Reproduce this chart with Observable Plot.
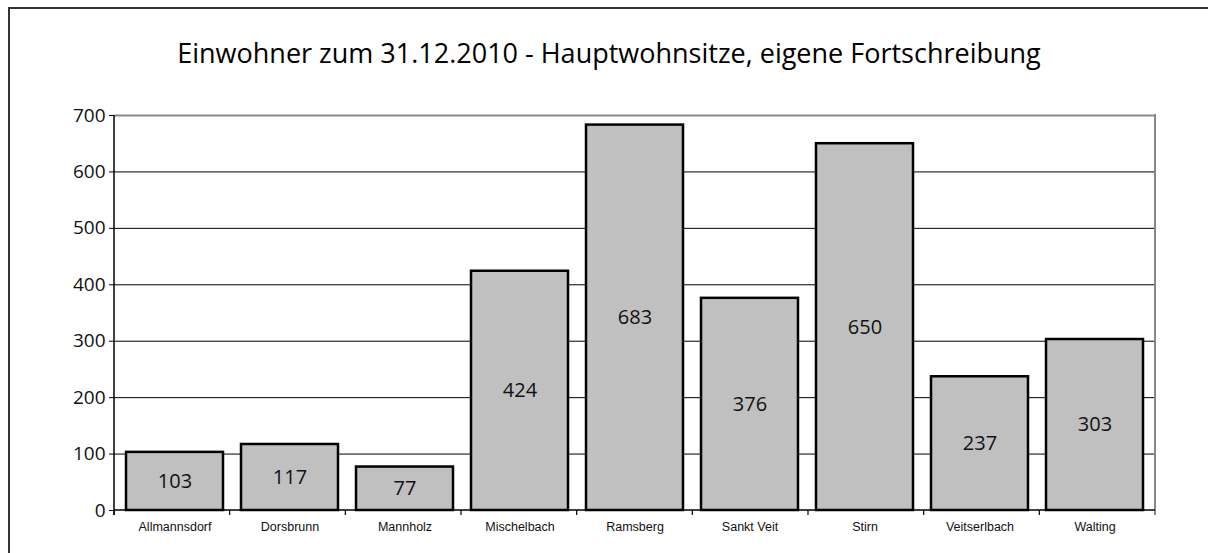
<!DOCTYPE html>
<html>
<head>
<meta charset="utf-8">
<script src="https://cdn.jsdelivr.net/npm/d3@7"></script>
<script src="https://cdn.jsdelivr.net/npm/@observablehq/plot@0.6"></script>
<style>
  html, body { margin: 0; padding: 0; background: #fff; overflow: hidden; width: 1208px; height: 553px; }
  #frame { position: absolute; left: 8px; top: 7px; width: 1400px; height: 800px; border-left: 2px solid #333; border-top: 2px solid #333; }
  #title { position: absolute; left: 0; width: 1218px; top: 34px; text-align: center; font-family: "Open Sans", sans-serif; font-size: 27px; color: #000; white-space: nowrap; }
  #chart { position: absolute; left: 0; top: 0; }
</style>
</head>
<body>
<div id="frame"></div>
<div id="title">Einwohner zum 31.12.2010 - Hauptwohnsitze, eigene Fortschreibung</div>
<div id="chart"></div>
<script>
const categories = ["Allmannsdorf", "Dorsbrunn", "Mannholz", "Mischelbach", "Ramsberg", "Sankt Veit", "Stirn", "Veitserlbach", "Walting"];
const values = [103, 117, 77, 424, 683, 376, 650, 237, 303];
const yTicks = [0, 100, 200, 300, 400, 500, 600, 700];

const data = categories.map((c, i) => ({name: c, value: values[i]}));
const geoFont = "Open Sans, sans-serif";

function frameMark(index, scales, values, dims) {
  const y = scales.y;
  const n = categories.length;
  const left = dims.marginLeft, right = dims.width - dims.marginRight;
  const step = (right - left) / n;
  const y0 = y(0), yTop = y(700);
  const g = d3.create("svg:g");
  g.append("line").attr("x1", right).attr("x2", right).attr("y1", yTop - 1).attr("y2", y0 + 5)
    .attr("stroke", "#888").attr("stroke-width", 2);
  for (let i = 0; i <= n; i++) {
    const xb = left + i * step;
    g.append("line").attr("x1", xb).attr("x2", xb).attr("y1", y0).attr("y2", y0 + 5)
      .attr("stroke", i === n ? "#888" : "#000").attr("stroke-width", 1.2);
  }
  g.append("line").attr("x1", left).attr("x2", right).attr("y1", y0).attr("y2", y0)
    .attr("stroke", "#000").attr("stroke-width", 1.5);
  g.append("line").attr("x1", left).attr("x2", left).attr("y1", yTop).attr("y2", y0 + 5)
    .attr("stroke", "#000").attr("stroke-width", 1.5);
  return g.node();
}

const chart = Plot.plot({
  width: 1208,
  height: 553,
  marginTop: 115,
  marginBottom: 43,
  marginLeft: 114,
  marginRight: 53,
  style: {background: "transparent"},
  x: {domain: categories, paddingInner: 0.16, paddingOuter: 0.08},
  y: {domain: [0, 700]},
  marks: [
    Plot.ruleY(yTicks.slice(1, -1), {stroke: "#000", strokeWidth: 1}),
    Plot.ruleY([700], {stroke: "#888", strokeWidth: 2}),
    Plot.barY(data, {x: "name", y: "value", fill: "#c0c0c0", stroke: "#000", strokeWidth: 2.5}),
    Plot.text(data, {x: "name", y: d => d.value / 2, text: d => String(d.value), fontSize: 20, fontFamily: geoFont, fill: "#111"}),
    frameMark,
    Plot.axisY({ticks: yTicks, tickSize: 5, tickPadding: 4, fontSize: 19, fontFamily: geoFont, stroke: "#000", fill: "#111", label: null, tickFormat: d => String(d)}),
    Plot.axisX({tickSize: 0, tickPadding: 12, fontSize: 12.5, fontFamily: "Liberation Sans, Arial, sans-serif", fill: "#111", label: null})
  ]
});
document.getElementById("chart").appendChild(chart);
</script>
</body>
</html>
